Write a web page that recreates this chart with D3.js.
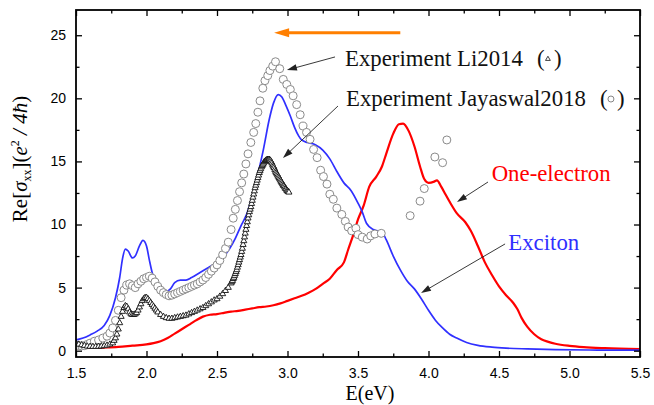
<!DOCTYPE html>
<html>
<head>
<meta charset="utf-8">
<script src="https://cdn.jsdelivr.net/npm/d3@7"></script>
<style>
  html, body { margin: 0; padding: 0; background: #fff; }
  svg { display: block; }
</style>
</head>
<body>
<svg id="chart" width="654" height="405"></svg>
<script>
// Photon energy (eV) and Re[sigma_xx] in units of e^2/4hbar

// Exciton (BSE) spectrum
const excitonE = [1.50, 1.55, 1.60, 1.65, 1.70, 1.74, 1.78, 1.81, 1.83, 1.85, 1.87, 1.90, 1.92, 1.95, 1.975,
  2.00, 2.02, 2.04, 2.07, 2.10, 2.14, 2.17, 2.20, 2.24, 2.28, 2.32, 2.38, 2.44, 2.50, 2.55, 2.59, 2.63, 2.67,
  2.71, 2.75, 2.79, 2.83, 2.87, 2.90, 2.935, 2.96, 2.99, 3.02, 3.05, 3.08, 3.10, 3.14, 3.18, 3.20, 3.25, 3.30,
  3.35, 3.40, 3.45, 3.50, 3.53, 3.56, 3.61, 3.67, 3.70, 3.75, 3.80, 3.85, 3.90, 3.95, 4.00, 4.05, 4.10, 4.15,
  4.20, 4.27, 4.35, 4.45, 4.55, 4.70, 4.90, 5.20, 5.50];
const excitonV = [0.85, 1.0, 1.25, 1.55, 2.0, 2.8, 4.2, 5.8, 7.3, 8.05, 7.9, 7.35, 7.5, 8.3, 8.75,
  8.3, 7.2, 6.2, 5.3, 4.8, 4.7, 4.9, 5.4, 5.6, 5.6, 5.8, 6.2, 6.6, 7.0, 7.5, 8.1, 8.9, 9.9,
  10.8, 12.2, 14.0, 16.0, 18.3, 19.6, 20.3, 20.1, 19.4, 18.6, 17.7, 17.0, 16.7, 16.5, 16.4, 16.3, 15.9, 15.2,
  14.2, 13.3, 12.7, 11.7, 11.0, 10.1, 9.6, 9.4, 8.8, 7.5, 6.4, 5.5, 4.9, 4.1, 3.2, 2.4, 1.8, 1.3,
  1.0, 0.65, 0.42, 0.28, 0.2, 0.14, 0.08, 0.05, 0.04];

// One-electron (independent particle) spectrum
const oneElecE = [1.50, 1.60, 1.70, 1.80, 1.90, 2.00, 2.05, 2.10, 2.15, 2.20, 2.25, 2.30, 2.35, 2.40, 2.45,
  2.50, 2.55, 2.60, 2.65, 2.70, 2.75, 2.80, 2.85, 2.90, 2.95, 3.00, 3.05, 3.10, 3.15, 3.20, 3.25, 3.30, 3.35,
  3.40, 3.43, 3.47, 3.50, 3.54, 3.58, 3.63, 3.67, 3.70, 3.75, 3.79, 3.82, 3.86, 3.90, 3.94, 3.97, 4.00, 4.04,
  4.06, 4.09, 4.12, 4.15, 4.20, 4.26, 4.30, 4.35, 4.40, 4.45, 4.50, 4.55, 4.60, 4.63, 4.66, 4.70, 4.75, 4.80,
  4.85, 4.90, 5.00, 5.10, 5.25, 5.50];
const oneElecV = [0.2, 0.22, 0.25, 0.3, 0.4, 0.5, 0.6, 0.75, 1.0, 1.35, 1.7, 2.05, 2.4, 2.7, 2.85,
  2.9, 3.0, 3.1, 3.15, 3.25, 3.35, 3.45, 3.5, 3.6, 3.75, 3.95, 4.15, 4.35, 4.6, 4.9, 5.3, 5.7, 6.4,
  7.0, 8.0, 9.3, 10.4, 11.5, 13.0, 13.8, 14.6, 15.6, 17.2, 17.95, 18.0, 17.4, 16.2, 14.6, 13.6, 13.3, 13.4,
  13.5, 13.0, 12.4, 11.8, 10.9, 10.2, 9.5, 8.3, 7.0, 6.0, 5.1, 4.4, 3.8, 3.3, 2.6, 1.9, 1.3, 0.9,
  0.7, 0.55, 0.38, 0.28, 0.2, 0.13];

// Experiment Li2014 (triangles)
const li2014E = [1.50, 1.52, 1.54, 1.56, 1.58, 1.60, 1.62, 1.64, 1.66, 1.68, 1.70, 1.72, 1.74, 1.76, 1.77,
  1.78, 1.79, 1.80, 1.81, 1.82, 1.83, 1.84, 1.85, 1.86, 1.87, 1.88, 1.89, 1.90, 1.91, 1.92, 1.93, 1.94, 1.95,
  1.96, 1.97, 1.98, 1.99, 2.00, 2.01, 2.02, 2.03, 2.04, 2.05, 2.06, 2.07, 2.08, 2.10, 2.12, 2.14, 2.16, 2.18,
  2.20, 2.22, 2.24, 2.26, 2.28, 2.30, 2.32, 2.34, 2.36, 2.38, 2.40, 2.42, 2.44, 2.46, 2.48, 2.50, 2.52, 2.54,
  2.56, 2.58,
  2.600, 2.605, 2.610, 2.615, 2.620, 2.625, 2.630, 2.635, 2.640, 2.645, 2.650, 2.655, 2.660, 2.665, 2.670,
  2.675, 2.680, 2.685, 2.690, 2.695, 2.700, 2.705, 2.710, 2.715, 2.720, 2.725, 2.730, 2.735, 2.740, 2.745,
  2.750, 2.755, 2.760, 2.765, 2.770, 2.775, 2.780, 2.785, 2.790, 2.795, 2.800, 2.805, 2.810, 2.815, 2.820,
  2.825, 2.830, 2.835, 2.840, 2.845, 2.850, 2.855, 2.860, 2.865, 2.870, 2.875, 2.880, 2.885, 2.890, 2.895,
  2.900, 2.905, 2.910, 2.915, 2.920, 2.925, 2.930, 2.935, 2.940, 2.945, 2.950, 2.955, 2.960, 2.965, 2.970,
  2.975, 2.980, 2.985, 2.990, 2.995, 3.000, 3.005, 3.010];
const li2014V = [0.6, 0.5, 0.45, 0.4, 0.35, 0.33, 0.32, 0.32, 0.33, 0.35, 0.38, 0.42, 0.5, 0.6, 0.8,
  1.0, 1.3, 1.7, 2.2, 2.7, 3.1, 3.4, 3.55, 3.5, 3.3, 3.05, 2.9, 2.85, 2.85, 2.9, 3.0, 3.2, 3.45,
  3.7, 3.95, 4.1, 4.2, 4.2, 4.1, 3.95, 3.8, 3.65, 3.5, 3.35, 3.2, 3.05, 2.85, 2.7, 2.6, 2.55, 2.55,
  2.6, 2.65, 2.7, 2.75, 2.8, 2.9, 3.0, 3.1, 3.2, 3.3, 3.4, 3.55, 3.7, 3.85, 4.0, 4.1, 4.3, 4.5,
  4.75, 5.0,
  5.35, 5.45, 5.55, 5.7, 5.8, 5.95, 6.1, 6.25, 6.4, 6.6, 6.8, 7.0, 7.2, 7.4, 7.6,
  7.85, 8.1, 8.4, 8.7, 9.0, 9.3, 9.6, 9.9, 10.2, 10.5, 10.75, 11.0, 11.2, 11.4, 11.65,
  11.9, 12.15, 12.4, 12.65, 12.9, 13.1, 13.3, 13.5, 13.7, 13.9, 14.1, 14.25, 14.4, 14.55, 14.65,
  14.75, 14.85, 14.95, 15.0, 15.05, 15.1, 15.12, 15.15, 15.15, 15.15, 15.1, 15.05, 14.95, 14.85, 14.7,
  14.6, 14.5, 14.35, 14.2, 14.1, 14.0, 13.9, 13.8, 13.7, 13.6, 13.5, 13.4, 13.3, 13.2, 13.1,
  13.05, 12.95, 12.85, 12.8, 12.7, 12.65, 12.6, 12.55];

// Experiment Jayaswal2018 (circles)
const jayaswalE = [1.50, 1.52, 1.54, 1.56, 1.58, 1.60, 1.63, 1.66, 1.69, 1.72, 1.74, 1.76, 1.78, 1.80, 1.82,
  1.84, 1.86, 1.88, 1.90, 1.92, 1.94, 1.96, 1.98, 2.00, 2.02, 2.04, 2.06, 2.08, 2.10, 2.12, 2.14, 2.16, 2.18,
  2.20, 2.22, 2.24, 2.26, 2.28, 2.30, 2.32, 2.34, 2.36, 2.38, 2.40, 2.42, 2.44, 2.46, 2.48, 2.50, 2.52, 2.54,
  2.56, 2.58, 2.60, 2.615, 2.63, 2.645, 2.66, 2.675, 2.69, 2.705, 2.72, 2.74, 2.76, 2.775, 2.79, 2.805, 2.825,
  2.84, 2.86, 2.875, 2.895, 2.915, 2.945, 2.97, 2.995, 3.02, 3.04, 3.065, 3.09, 3.11, 3.135, 3.16, 3.185, 3.21,
  3.235, 3.255, 3.28, 3.30, 3.325, 3.35, 3.385, 3.41, 3.43, 3.455, 3.485, 3.50, 3.53, 3.565, 3.59, 3.62, 3.665,
  3.87, 3.94, 3.97, 4.045, 4.10, 4.13];
const jayaswalV = [0.45, 0.4, 0.38, 0.4, 0.5, 0.6, 0.75, 0.85, 1.0, 1.15, 1.4, 1.8, 2.4, 3.2, 4.2,
  4.8, 5.2, 5.3, 5.15, 5.0, 5.3, 5.5, 5.7, 5.8, 5.9, 5.75, 5.45, 5.1, 4.8, 4.6, 4.45, 4.35, 4.4,
  4.5, 4.6, 4.7, 4.8, 4.9, 5.0, 5.1, 5.2, 5.3, 5.45, 5.6, 5.8, 6.05, 6.3, 6.55, 6.8, 7.15, 7.6,
  8.1, 8.6, 9.6, 10.5, 11.2, 11.9, 12.6, 13.3, 14.0, 14.8, 15.6, 16.5, 17.3, 18.0, 18.9, 19.8, 20.8,
  21.4, 21.8, 22.2, 22.55, 22.9, 22.35, 21.5, 21.1, 20.7, 20.2, 19.5, 18.7, 17.8, 17.3, 16.75, 15.95, 15.3,
  14.3, 13.8, 13.2, 12.4, 12.0, 11.3, 10.8, 10.25, 9.8, 9.5, 9.7, 9.2, 9.0, 8.85, 9.1, 9.25, 9.3,
  10.7, 11.85, 12.85, 15.35, 14.9, 16.7];

// Axis ticks
const xMajor = [1.5, 2.0, 2.5, 3.0, 3.5, 4.0, 4.5, 5.0, 5.5];
const xMinor = [1.75, 2.25, 2.75, 3.25, 3.75, 4.25, 4.75, 5.25];
const yMajor = [0, 5, 10, 15, 20, 25];
const yMinor = [2.5, 7.5, 12.5, 17.5, 22.5];

const zip = (a, b) => a.map((v, i) => [v, b[i]]);

const svg = d3.select("#chart");
const plot = { left: 76, right: 640, top: 10, bottom: 357 };

const x = d3.scaleLinear().domain([1.5, 5.5]).range([plot.left, plot.right]);
const y = d3.scaleLinear().domain([-0.5, 27]).range([plot.bottom, plot.top]);

svg.append("defs").append("clipPath").attr("id", "plotClip")
  .append("rect")
  .attr("x", plot.left).attr("y", plot.top)
  .attr("width", plot.right - plot.left).attr("height", plot.bottom - plot.top);

const body = svg.append("g").attr("clip-path", "url(#plotClip)");

const line = d3.line()
  .x(d => x(d[0]))
  .y(d => y(d[1]))
  .curve(d3.curveMonotoneX);

// Theory curves
body.append("path")
  .datum(zip(oneElecE, oneElecV))
  .attr("d", line)
  .attr("fill", "none")
  .attr("stroke", "#ff0000")
  .attr("stroke-width", 2.2);

body.append("path")
  .datum(zip(excitonE, excitonV))
  .attr("d", line)
  .attr("fill", "none")
  .attr("stroke", "#3030ff")
  .attr("stroke-width", 1.7);

// Experimental points
body.append("g").selectAll("circle")
  .data(zip(jayaswalE, jayaswalV))
  .join("circle")
  .attr("cx", d => x(d[0]))
  .attr("cy", d => y(d[1]))
  .attr("r", 4)
  .attr("fill", "#fff")
  .attr("stroke", "#8a8a8a")
  .attr("stroke-width", 1);

const tri = d3.symbol(d3.symbolTriangle, 16);
body.append("g").selectAll("path")
  .data(zip(li2014E, li2014V))
  .join("path")
  .attr("d", tri)
  .attr("transform", d => `translate(${x(d[0])},${y(d[1])})`)
  .attr("fill", "#fff")
  .attr("stroke", "#111")
  .attr("stroke-width", 0.9);

// Axes: ticks point inward on all four sides
function styleAxis(g) {
  g.select(".domain").remove();
  g.selectAll(".tick line").attr("stroke", "#000").attr("stroke-width", 1.3);
  g.selectAll(".tick text")
    .attr("font-family", "'Liberation Sans', Arial, sans-serif")
    .attr("font-size", 14)
    .attr("fill", "#000");
}

svg.append("g").attr("transform", `translate(0,${plot.bottom})`)
  .call(d3.axisBottom(x).tickValues(xMajor).tickFormat(d3.format(".1f"))
    .tickSizeInner(-6).tickSizeOuter(0).tickPadding(11))
  .call(styleAxis);
svg.append("g").attr("transform", `translate(0,${plot.bottom})`)
  .call(d3.axisBottom(x).tickValues(xMinor).tickFormat("").tickSizeInner(-3.5).tickSizeOuter(0))
  .call(styleAxis);
svg.append("g").attr("transform", `translate(0,${plot.top})`)
  .call(d3.axisTop(x).tickValues(xMajor).tickFormat("").tickSizeInner(-6).tickSizeOuter(0))
  .call(styleAxis);
svg.append("g").attr("transform", `translate(0,${plot.top})`)
  .call(d3.axisTop(x).tickValues(xMinor).tickFormat("").tickSizeInner(-3.5).tickSizeOuter(0))
  .call(styleAxis);

svg.append("g").attr("transform", `translate(${plot.left},0)`)
  .call(d3.axisLeft(y).tickValues(yMajor).tickFormat(d3.format("d"))
    .tickSizeInner(-6).tickSizeOuter(0).tickPadding(10))
  .call(styleAxis);
svg.append("g").attr("transform", `translate(${plot.left},0)`)
  .call(d3.axisLeft(y).tickValues(yMinor).tickFormat("").tickSizeInner(-3.5).tickSizeOuter(0))
  .call(styleAxis);
svg.append("g").attr("transform", `translate(${plot.right},0)`)
  .call(d3.axisRight(y).tickValues(yMajor).tickFormat("").tickSizeInner(-6).tickSizeOuter(0))
  .call(styleAxis);
svg.append("g").attr("transform", `translate(${plot.right},0)`)
  .call(d3.axisRight(y).tickValues(yMinor).tickFormat("").tickSizeInner(-3.5).tickSizeOuter(0))
  .call(styleAxis);

svg.append("rect")
  .attr("x", plot.left).attr("y", plot.top)
  .attr("width", plot.right - plot.left).attr("height", plot.bottom - plot.top)
  .attr("fill", "none").attr("stroke", "#000").attr("stroke-width", 1.8);

// Axis titles
const serif = "'Liberation Serif', 'Times New Roman', serif";

svg.append("text")
  .attr("x", 370).attr("y", 400)
  .attr("text-anchor", "middle")
  .attr("font-family", serif).attr("font-size", 20)
  .text("E(eV)");

const yTitle = svg.append("text")
  .attr("transform", "translate(27,159) rotate(-90)")
  .attr("text-anchor", "middle")
  .attr("font-family", serif).attr("font-size", 21);
yTitle.append("tspan").text("Re[");
yTitle.append("tspan").attr("font-style", "italic").text("σ");
yTitle.append("tspan").attr("font-size", 12).attr("dy", 4).text("xx");
yTitle.append("tspan").attr("dy", -4).text("](");
yTitle.append("tspan").attr("font-style", "italic").text("e");
yTitle.append("tspan").attr("font-size", 12).attr("dy", -8).text("2");
yTitle.append("tspan").attr("dy", 8).attr("font-style", "italic").text(" / 4ħ");
yTitle.append("tspan").text(")");

// Annotations (placed in data coordinates)
function arrow(x1, y1, x2, y2, color, width, headLen, headHalf) {
  const dx = x2 - x1, dy = y2 - y1, len = Math.hypot(dx, dy);
  const ux = dx / len, uy = dy / len;
  const bx = x2 - ux * headLen, by = y2 - uy * headLen;
  svg.append("line")
    .attr("x1", x1).attr("y1", y1).attr("x2", bx + ux * 1).attr("y2", by + uy * 1)
    .attr("stroke", color).attr("stroke-width", width);
  svg.append("path")
    .attr("d", `M${x2},${y2}L${bx - uy * headHalf},${by + ux * headHalf}L${bx + uy * headHalf},${by - ux * headHalf}Z`)
    .attr("fill", color);
}

// Red shift marker
arrow(x(3.80), y(25.2), x(2.905), y(25.2), "#ff7f00", 3, 15, 4.5);

// Pointer arrows
arrow(x(3.337), y(23.28), x(2.996), y(22.24), "#222", 0.9, 10, 3.2);
arrow(x(3.358), y(19.39), x(2.968), y(15.27), "#222", 0.9, 10, 3.2);
arrow(x(4.422), y(13.37), x(4.202), y(11.78), "#222", 0.9, 10, 3.2);
arrow(x(4.543), y(8.46), x(3.947), y(4.57), "#222", 0.9, 10, 3.2);

function label(px, py, txt, color) {
  return svg.append("text")
    .attr("x", px).attr("y", py)
    .attr("font-family", serif).attr("font-size", 22.8)
    .attr("fill", color)
    .text(txt);
}

// Experiment labels followed by a small marker in parentheses
function experimentLabel(E, v, txt, drawMarker) {
  const px = x(E), py = y(v);
  const t = label(px, py, txt, "#111");
  const end = px + t.node().getComputedTextLength();
  const open = end + 14;
  label(open, py, "(", "#111");
  label(open + 17, py, ")", "#111");
  drawMarker(open + 11, py - 7);
}

experimentLabel(3.408, 22.56, "Experiment Li2014", (cx, cy) => {
  svg.append("path")
    .attr("d", d3.symbol(d3.symbolTriangle, 10)())
    .attr("transform", `translate(${cx},${cy})`)
    .attr("fill", "none").attr("stroke", "#111").attr("stroke-width", 0.8);
});

experimentLabel(3.415, 19.39, "Experiment Jayaswal2018", (cx, cy) => {
  svg.append("circle")
    .attr("cx", cx).attr("cy", cy).attr("r", 3)
    .attr("fill", "none").attr("stroke", "#777").attr("stroke-width", 0.9);
});

label(x(4.448), y(13.45), "One-electron", "#ff0000");
label(x(4.566), y(7.98), "Exciton", "#3030ff");
</script>
</body>
</html>
